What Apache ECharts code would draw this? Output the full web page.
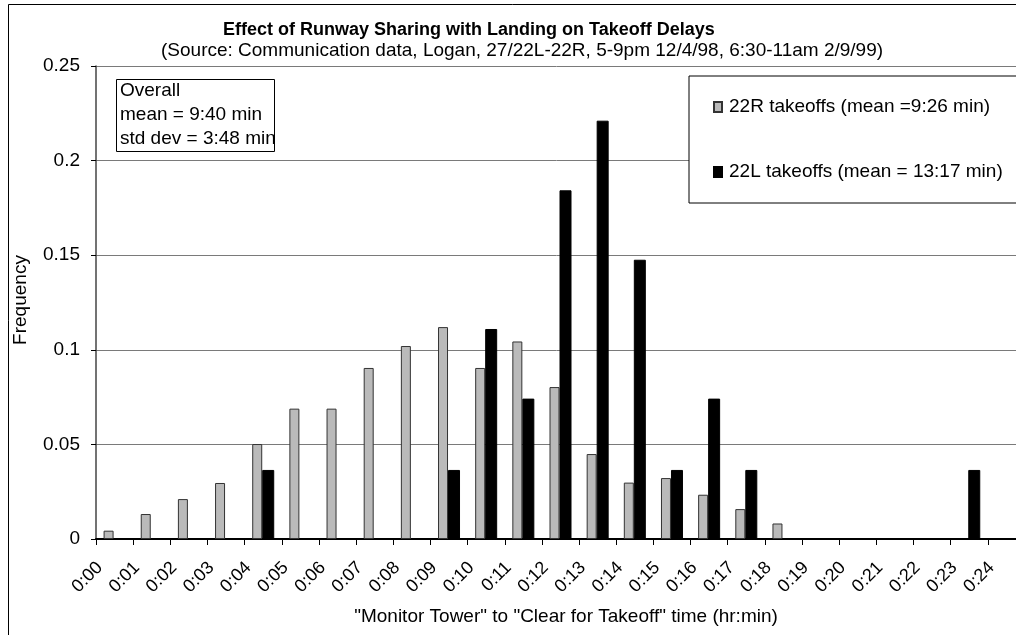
<!DOCTYPE html>
<html>
<head>
<meta charset="utf-8">
<script src="https://cdn.jsdelivr.net/npm/echarts@6/dist/echarts.min.js"></script>
<style>
  html, body { margin: 0; padding: 0; background: #fff; }
  #chart { width: 1016px; height: 635px; }
</style>
</head>
<body>
<div id="chart"></div>
<script>
// time bins (hr:min)
const categories = [
  "0:00", "0:01", "0:02", "0:03", "0:04", "0:05", "0:06", "0:07", "0:08",
  "0:09", "0:10", "0:11", "0:12", "0:13", "0:14", "0:15", "0:16", "0:17",
  "0:18", "0:19", "0:20", "0:21", "0:22", "0:23", "0:24",
];

// frequency per bin
const takeoffs22R = [
  0.0044, 0.0132, 0.0211, 0.0296, 0.0502, 0.0689, 0.0689, 0.0904, 0.102,
  0.112, 0.0904, 0.1044, 0.0803, 0.0449, 0.0298, 0.0322, 0.0234, 0.0158,
  0.0082, 0, 0, 0, 0, 0, 0,
];
const takeoffs22L = [
  0, 0, 0, 0, 0.0365, 0, 0, 0, 0,
  0.0365, 0.111, 0.0742, 0.1843, 0.2211, 0.1476, 0.0365, 0.0742, 0.0365,
  0, 0, 0, 0, 0, 0.0365, 0,
];

const yTicks = { min: 0, max: 0.25, interval: 0.05 };

const seriesNames = ["22R takeoffs (mean =9:26 min)", "22L takeoffs (mean = 13:17 min)"];
const overallText = ["Overall", "mean = 9:40 min", "std dev = 3:48 min"];

const font = "'Liberation Sans', Arial, sans-serif";

// empty bins get no bar at all (no outline on the baseline)
const toBars = (arr) => arr.map((v) => (v === 0 ? "-" : v));

const chart = echarts.init(document.getElementById("chart"));

chart.setOption({
  backgroundColor: "#fff",
  animation: false,
  textStyle: { fontFamily: font, color: "#000" },
  title: [
    {
      text: "Effect of Runway Sharing with Landing on Takeoff Delays",
      left: 223,
      top: 21,
      padding: 0,
      textStyle: { fontFamily: font, fontSize: 18, fontWeight: "bold", color: "#000" },
    },
    {
      text: "(Source: Communication data, Logan, 27/22L-22R, 5-9pm 12/4/98, 6:30-11am 2/9/99)",
      left: 161,
      top: 41,
      padding: 0,
      textStyle: { fontFamily: font, fontSize: 19, fontWeight: "normal", color: "#000" },
    },
  ],
  legend: {
    data: seriesNames,
    orient: "vertical",
    left: 689,
    top: 76,
    padding: [21, 40, 21, 24],
    itemGap: 45,
    itemWidth: 8,
    itemHeight: 10,
    icon: "rect",
    backgroundColor: "#fff",
    borderColor: "#000",
    borderWidth: 1,
    borderRadius: 0,
    selectedMode: false,
    textStyle: { fontFamily: font, fontSize: 19, color: "#000", lineHeight: 20, padding: [0, 0, 0, 2] },
  },
  grid: {
    left: 96,
    top: 66,
    width: 929,
    height: 473,
    outerBoundsMode: "none",
    containLabel: false,
  },
  xAxis: {
    type: "category",
    data: categories,
    boundaryGap: true,
    axisLine: { show: true, lineStyle: { color: "#000", width: 2 } },
    axisTick: { show: true, interval: 0, length: 6, lineStyle: { color: "#000" } },
    axisLabel: {
      interval: 0,
      rotate: 45,
      margin: 11,
      padding: [0, 21, 0, 0],
      fontFamily: font,
      fontSize: 18,
      color: "#000",
    },
    splitLine: { show: false },
  },
  yAxis: {
    type: "value",
    min: yTicks.min,
    max: yTicks.max,
    interval: yTicks.interval,
    axisLine: { show: true, lineStyle: { color: "#444", width: 1.5 } },
    axisTick: { show: true, length: 5, lineStyle: { color: "#000" } },
    axisLabel: { margin: 16, fontFamily: font, fontSize: 19, color: "#000" },
    splitLine: { show: true, lineStyle: { color: "#7a7a7a", width: 1 } },
  },
  series: [
    {
      name: seriesNames[0],
      type: "bar",
      data: toBars(takeoffs22R),
      barWidth: 10,
      barGap: "0%",
      itemStyle: { color: "#bababa", borderColor: "#333", borderWidth: 1 },
    },
    {
      name: seriesNames[1],
      type: "bar",
      data: toBars(takeoffs22L),
      barWidth: 12,
      barGap: "0%",
      itemStyle: { color: "#000", borderColor: "#000", borderWidth: 1 },
    },
  ],
  graphic: [
    // outer chart border (cropped on the right / bottom)
    {
      type: "rect",
      shape: { x: 8.5, y: 4.5, width: 1100, height: 700 },
      style: { fill: null, stroke: "#000", lineWidth: 1 },
      silent: true,
      z: 0,
    },
    {
      type: "text",
      x: 21,
      y: 300,
      rotation: Math.PI / 2,
      style: {
        text: "Frequency",
        fontFamily: font,
        fontSize: 19,
        fill: "#000",
        textAlign: "center",
        textVerticalAlign: "middle",
      },
    },
    {
      type: "text",
      x: 566,
      y: 617,
      style: {
        text: '"Monitor Tower" to "Clear for Takeoff" time (hr:min)',
        fontFamily: font,
        fontSize: 19,
        fill: "#000",
        textAlign: "center",
        textVerticalAlign: "middle",
      },
    },
    {
      type: "group",
      left: 116,
      top: 79,
      z: 10,
      children: [
        {
          type: "rect",
          shape: { x: 0.5, y: 0.5, width: 158, height: 72 },
          style: { fill: "#fff", stroke: "#000", lineWidth: 1 },
        },
        {
          type: "text",
          x: 4,
          y: 0,
          style: {
            text: overallText.join("\n"),
            fontFamily: font,
            fontSize: 19,
            lineHeight: 24,
            fill: "#000",
            textAlign: "left",
            textVerticalAlign: "top",
          },
        },
      ],
    },
  ],
});
</script>
</body>
</html>
